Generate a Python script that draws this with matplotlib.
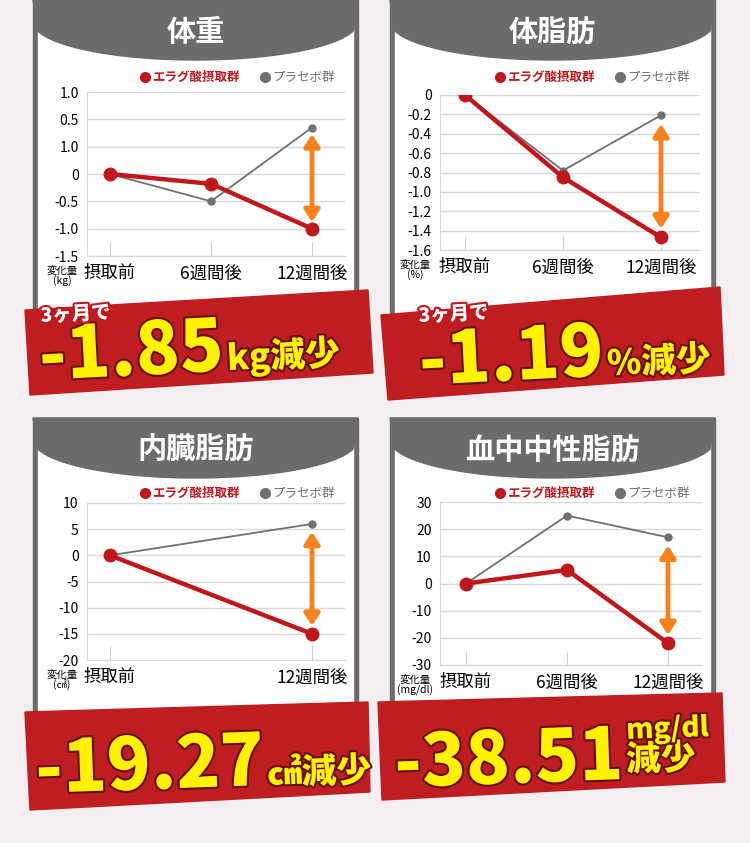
import numpy as np
import matplotlib
matplotlib.use("Agg")
import matplotlib.pyplot as plt
from matplotlib.patches import Polygon, Rectangle
import matplotlib.patheffects as pe

plt.rcParams['font.family'] = ['Noto Sans CJK JP', 'DejaVu Sans']

W, H = 750, 843

# ---- data ----
titles = ["体重", "体脂肪", "内臓脂肪", "血中中性脂肪"]
cats3 = ["摂取前", "6週間後", "12週間後"]
cats2 = ["摂取前", "12週間後"]

weight_red = [0, -0.18, -1.0]
weight_gray = [0, -0.5, 0.85]
weight_ticklabels = ["1.0", "0.5", "1.0", "0", "-0.5", "-1.0", "-1.5"]

fat_red = [0, -0.85, -1.47]
fat_gray = [0, -0.78, -0.21]
fat_ticklabels = ["0", "-0.2", "-0.4", "-0.6", "-0.8", "-1.0", "-1.2", "-1.4", "-1.6"]

visc_red = [0, -15]
visc_gray = [0, 6]
visc_ticklabels = ["10", "5", "0", "-5", "-10", "-15", "-20"]

tg_red = [0, 5, -22]
tg_gray = [0, 25, 17]
tg_ticklabels = ["30", "20", "10", "0", "-10", "-20", "-30"]

RED = "#c0171c"
GRAY = "#707070"
ORANGE = "#f7821b"
YEL = "#fff200"

fig = plt.figure(figsize=(W / 100, H / 100), dpi=100)
fig.patch.set_facecolor("#f3eff1")
bg = fig.add_axes([0, 0, 1, 1])
bg.set_xlim(0, W)
bg.set_ylim(H, 0)
bg.axis("off")
renderer = fig.canvas.get_renderer()


def box(x0, y0, x1, y1):
    return [x0 / W, 1 - y1 / H, (x1 - x0) / W, (y1 - y0) / H]


def frame(x0, x1, y0, y1, title):
    bg.add_patch(Rectangle((x0, y0), x1 - x0, y1 - y0, color="#6b6b6b", zorder=1))
    bg.add_patch(Rectangle((x0 + 5, y0 + 20), x1 - x0 - 10, y1 - y0 - 20, color="white", zorder=2))
    xs = np.linspace(x0 + 5, x1 - 5, 60)
    cx, hw = (x0 + x1) / 2, (x1 - x0) / 2
    ys = y0 + 22 + 38 * (1 - ((xs - cx) / hw) ** 2) ** 0.5
    pts = [(x0, y0)] + list(zip(xs, ys)) + [(x1, y0)]
    bg.add_patch(Polygon(pts, closed=True, color="#6b6b6b", zorder=3))
    bg.text(cx, y0 + 32, title, color="white", fontsize=21, fontweight="bold",
            ha="center", va="center", zorder=4)


def legend(xr, y):
    bg.plot([xr - 200], [y], "o", color=RED, ms=7, zorder=5)
    bg.text(xr - 193, y, "エラグ酸摂取群", color=RED, fontsize=9, fontweight="bold",
            va="center", zorder=5)
    bg.plot([xr - 80], [y], "o", color=GRAY, ms=7, zorder=5)
    bg.text(xr - 73, y, "プラセボ群", color=GRAY, fontsize=9, va="center", zorder=5)


def chart(rect, xlim, ylim, ticks, ticklabels, cats, red, gray, arrow, unit):
    ax = fig.add_axes(box(*rect))
    ax.set_zorder(5)
    ax.patch.set_alpha(0)
    x = np.arange(len(cats))
    ax.set_xlim(*xlim)
    ax.set_ylim(*ylim)
    ax.set_yticks(ticks)
    ax.set_yticklabels(ticklabels, fontsize=10)
    ax.set_xticks(x)
    ax.set_xticklabels(cats, fontsize=12.5)
    ax.yaxis.grid(True, color="#d8d8d8", lw=1)
    ax.tick_params(axis="y", length=0, pad=6)
    ax.tick_params(axis="x", direction="in", length=10, color="#d0d0d0", pad=6)
    for s in ["top", "right"]:
        ax.spines[s].set_visible(False)
    ax.spines["left"].set_color("#d8d8d8")
    ax.spines["bottom"].set_color("#d8d8d8")
    ax.plot(x, gray, "-o", color=GRAY, lw=1.3, ms=5, zorder=3)
    ax.plot(x, red, "-o", color=RED, lw=3.2, ms=9, zorder=4)
    ax.annotate("", xy=(x[-1], arrow[1]), xytext=(x[-1], arrow[0]),
                arrowprops=dict(arrowstyle="<|-|>,head_width=0.45,head_length=0.7",
                                color=ORANGE, lw=3.5, shrinkA=0, shrinkB=0), zorder=5)
    bg.text(rect[0] - 25, rect[3] + 20, "変化量\n" + unit, fontsize=7.5, ha="center",
            va="center", linespacing=0.95, zorder=6)
    return ax


EFF = [pe.withStroke(linewidth=3, foreground="#6a0d0f")]


def banner(pts, big, bx, by, small, rot, top=None, gap=2, small_dy=0):
    bg.add_patch(Polygon(pts, closed=True, color="#be1e22", zorder=7))
    t = bg.text(bx, by, big, color=YEL, fontsize=52, fontweight="black", ha="left",
                va="baseline", rotation=rot, rotation_mode="anchor", zorder=8,
                path_effects=EFF)
    ext = t.get_window_extent(renderer)
    x_end = ext.x1 + gap
    y_end = by - (x_end - bx) * np.tan(np.radians(rot)) + small_dy
    if small:
        bg.text(x_end, y_end, small, color=YEL, fontsize=25, fontweight="black", ha="left",
                va="baseline", rotation=rot, rotation_mode="anchor", zorder=8,
                path_effects=EFF)
    if top:
        bg.text(top[1], top[2], top[0], color="white", fontsize=14, fontweight="black",
                rotation=rot, zorder=9,
                path_effects=[pe.withStroke(linewidth=3, foreground=RED)])
    return x_end, y_end


# frames
frame(33, 358, 0, 320, titles[0])
frame(390, 715, 0, 320, titles[1])
frame(33, 358, 418, 720, titles[2])
frame(390, 715, 418, 720, titles[3])
legend(345, 77)
legend(700, 77)
legend(345, 493)
legend(700, 493)

# TL
s = 101
chart((87, 92, 345, 256), ((87 - 110) / s, (345 - 110) / s), (-1.5, 1.5),
      np.linspace(1.5, -1.5, 7), weight_ticklabels, cats3, weight_red, weight_gray,
      (0.73, -0.88), "(kg)")

# TR
s = 98
chart((440, 95, 700, 250), ((440 - 465) / s, (700 - 465) / s), (-1.6, 0),
      np.linspace(0, -1.6, 9), fat_ticklabels, cats3, fat_red, fat_gray,
      (-0.3, -1.38), "(%)")

# BL
s = 202
chart((87, 503, 345, 660), ((87 - 110) / s, (345 - 110) / s), (-20, 10),
      np.linspace(10, -20, 7), visc_ticklabels, cats2, visc_red, visc_gray,
      (4.5, -13.5), "(㎠)")

# BR
s = 101
chart((440, 502, 702, 665), ((440 - 466) / s, (702 - 466) / s), (-30, 30),
      np.linspace(30, -30, 7), tg_ticklabels, cats3, tg_red, tg_gray,
      (14, -19), "(mg/dl)")

# banners
banner([(25, 310), (368, 290), (373, 373), (30, 395)], "-1.85", 40, 380,
       "kg減少", 3, ("3ヶ月で", 40, 322))
banner([(381, 315), (720, 287), (724, 375), (388, 400)], "-1.19", 420, 385,
       "%減少", 3, ("3ヶ月で", 418, 322))
banner([(25, 712), (368, 702), (370, 792), (30, 810)], "-19.27", 36, 793,
       "㎠減少", 2)
xe, ye = banner([(378, 702), (722, 693), (725, 782), (382, 800)], "-38.51", 395, 787,
                "減少", 2, small_dy=-8)
bg.text(xe, ye - 32, "mg/dl", color=YEL, fontsize=20, fontweight="black", rotation=2,
        rotation_mode="anchor", zorder=8, path_effects=EFF)

fig.savefig("out.png", dpi=100, facecolor=fig.get_facecolor())
